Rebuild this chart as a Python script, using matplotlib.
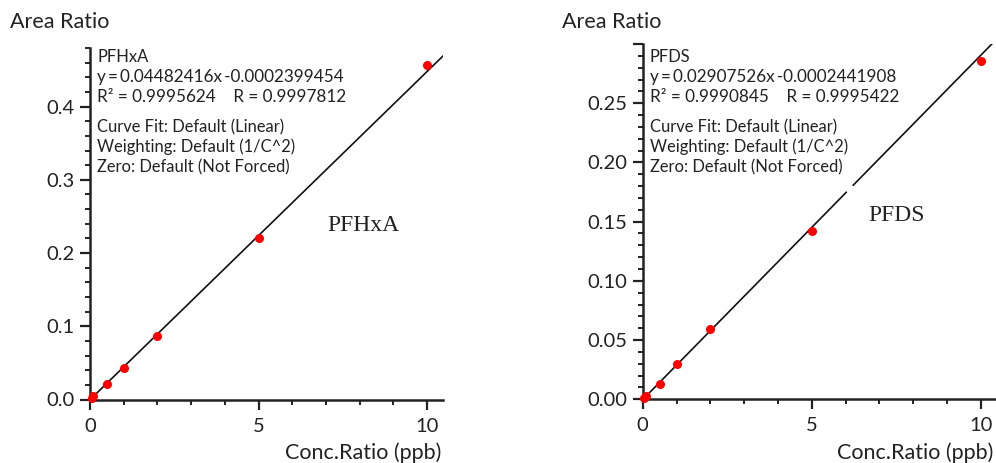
import numpy as np
import matplotlib
matplotlib.use("Agg")
import matplotlib.pyplot as plt
from matplotlib.ticker import MultipleLocator

plt.rcParams['font.family'] = ['Lato', 'DejaVu Sans']

# calibration data
conc = [0.05, 0.1, 0.5, 1.0, 2.0, 5.0, 10.0]

pfhxa_ratio = [0.0018, 0.0042, 0.0207, 0.0424, 0.0862, 0.2200, 0.4574]
pfhxa_slope = 0.04482416
pfhxa_icpt = -0.0002399454
pfhxa_info = ["PFHxA",
              "y\u2009=\u20090.04482416x\u2009-0.0002399454",
              "R\u00b2 = 0.9995624    R = 0.9997812"]

pfds_ratio = [0.0012, 0.0028, 0.0130, 0.0298, 0.0590, 0.1420, 0.2860]
pfds_slope = 0.02907526
pfds_icpt = -0.0002441908
pfds_info = ["PFDS",
             "y\u2009=\u20090.02907526x\u2009-0.0002441908",
             "R\u00b2 = 0.9990845    R = 0.9995422"]

fit_info = ["Curve Fit: Default (Linear)",
            "Weighting: Default (1/C^2)",
            "Zero: Default (Not Forced)"]

fig = plt.figure(figsize=(9.96, 4.63), dpi=100)


def panel(rect, ratio, slope, icpt, info, name, xmax, ymax, ymajor, yminor,
          yfmt, name_xy, gap=None):
    ax = fig.add_axes(rect)
    ax.set_xlim(0, xmax)
    ax.set_ylim(0, ymax)
    for s in ("top", "right"):
        ax.spines[s].set_visible(False)
    for s in ("left", "bottom"):
        ax.spines[s].set_linewidth(1.8)
        ax.spines[s].set_color("#222222")

    # fit line
    xs = np.linspace(0, xmax, 600)
    ys = slope * xs + icpt
    if gap is not None:
        ys = np.ma.masked_where((xs > gap[0]) & (xs < gap[1]), ys)
    ax.plot(xs, ys, color="#111111", lw=1.2)

    ax.plot(conc, ratio, "o", color="#ff0000", ms=6.5, mec="none",
            clip_on=False, zorder=5)

    ax.xaxis.set_major_locator(MultipleLocator(5))
    ax.xaxis.set_minor_locator(MultipleLocator(1))
    ax.yaxis.set_major_locator(MultipleLocator(ymajor))
    ax.yaxis.set_minor_locator(MultipleLocator(yminor))
    ax.yaxis.set_major_formatter(
        lambda v, p: "" if v > ymax - ymajor * 0.5 else yfmt.format(v))
    ax.tick_params(which="major", length=7, width=1.6, colors="#222222",
                   labelsize=14.5, pad=4)
    ax.tick_params(axis="x", which="major", pad=6)
    ax.tick_params(which="minor", length=3.5, width=1.4, colors="#222222")

    # annotation block
    x0 = ax.get_position().x0 + 7 / 996
    tops = [57, 77, 97, 127, 147, 167]
    for i, (txt, yp) in enumerate(zip(info + fit_info, tops)):
        fs = 12.3 if i in (1, 2) else 11.9
        fig.text(x0, 1 - yp / 463, txt, fontsize=fs, va="center",
                 ha="left", color="#222222")

    ax.text(name_xy[0], name_xy[1], name, family="Liberation Serif",
            fontsize=17, ha="center", va="center", color="#222222")
    return ax


ax1 = panel([90 / 996, 1 - 399.5 / 463, 353 / 996, 351.5 / 463],
            pfhxa_ratio, pfhxa_slope, pfhxa_icpt, pfhxa_info, "PFHxA",
            10.47, 0.48, 0.1, 0.02, "{:.1f}", (8.1, 0.237))
ax2 = panel([642.7 / 996, 1 - 399.3 / 463, 352.3 / 996, 355.3 / 463],
            pfds_ratio, pfds_slope, pfds_icpt, pfds_info, "PFDS",
            10.42, 0.30, 0.05, 0.01, "{:.2f}", (7.5, 0.155), gap=(6.02, 6.22))

for xl, xr in ((10, 441), (562, 993)):
    fig.text(xl / 996, 1 - 22 / 463, "Area Ratio", fontsize=15.5,
             ha="left", va="center", color="#222222")
    fig.text(xr / 996, 1 - 453 / 463, "Conc.Ratio (ppb)", fontsize=15.5,
             ha="right", va="center", color="#222222")

fig.savefig("out.png", dpi=100)
